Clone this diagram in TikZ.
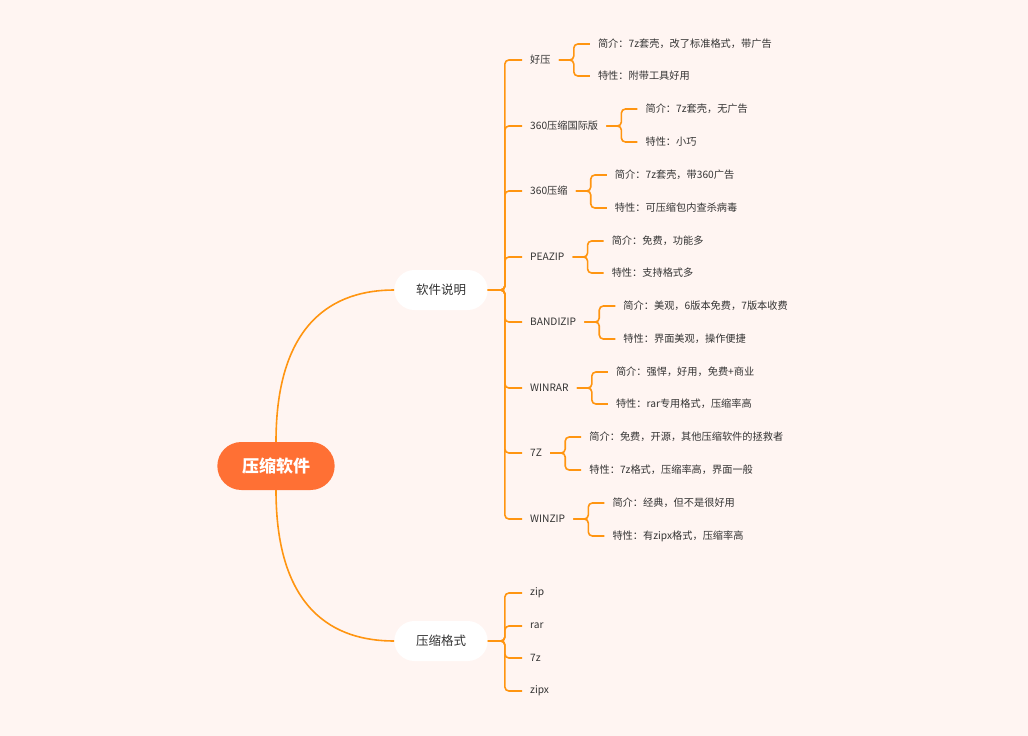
\documentclass[tikz,border=0pt]{standalone}
\usepackage{fontspec}
\setmainfont{Noto Sans CJK SC}
\usetikzlibrary{shapes.misc}
\definecolor{bg}{HTML}{FFF5F2}
\definecolor{ln}{HTML}{FF9511}
\definecolor{rootc}{HTML}{FF7034}
\definecolor{tx}{HTML}{333333}
\begin{document}
\begin{tikzpicture}[x=1pt,y=-1pt,
  txt/.style={anchor=west,inner xsep=8pt,inner ysep=2pt,text=tx,font=\fontsize{10.2}{12}\selectfont},
  pill/.style={rounded rectangle,fill=white,minimum width=100pt,minimum height=40pt,text=tx,font=\fontsize{12.5}{14}\selectfont},
  br/.style={draw=ln,line width=1.6pt,rounded corners=4pt},
  cv/.style={draw=ln,line width=1.6pt}]
\fill[bg] (0,0) rectangle (1028,736);
\useasboundingbox (0,0) rectangle (1028,736);
\node[rounded rectangle,fill=rootc,minimum width=124pt,minimum height=48pt,text=white,font=\fontsize{17}{20}\bfseries\selectfont] (root) at (276,466) {压缩软件};
\node[pill] (s) at (441,290) {软件说明};
\node[pill] (f) at (441,641) {压缩格式};
\draw[cv] (root.north) .. controls +(0,-120) and +(-60,0) .. (s.west);
\draw[cv] (root.south) .. controls +(0,120) and +(-60,0) .. (f.west);
% level 1
\foreach \n/\t/\y in {a/好压/60,b/360压缩国际版/126,c/360压缩/191,d/PEAZIP/257,e/BANDIZIP/322,g/WINRAR/388,h/7Z/453,i/WINZIP/519}{
  \node[txt] (\n) at (522,\y) {\t};
  \draw[br] (s.east) -- ++(17,0) |- (\n.west);
}
\foreach \n/\t/\y in {z1/zip/593,z2/rar/626,z3/7z/658,z4/zipx/691}{
  \node[txt] (\n) at (522,\y) {\t};
  \draw[br] (f.east) -- ++(17,0) |- (\n.west);
}
% level 2
\foreach \p/\ya/\ta/\yb/\tb in {
 a/44/{简介：7z套壳，改了标准格式，带广告}/76/{特性：附带工具好用},
 b/109/{简介：7z套壳，无广告}/142/{特性：小巧},
 c/175/{简介：7z套壳，带360广告}/208/{特性：可压缩包内查杀病毒},
 d/241/{简介：免费，功能多}/273/{特性：支持格式多},
 e/306/{简介：美观，6版本免费，7版本收费}/339/{特性：界面美观，操作便捷},
 g/372/{简介：强悍，好用，免费+商业}/404/{特性：rar专用格式，压缩率高},
 h/437/{简介：免费，开源，其他压缩软件的拯救者}/470/{特性：7z格式，压缩率高，界面一般},
 i/503/{简介：经典，但不是很好用}/536/{特性：有zipx格式，压缩率高}}{
  \path (\p.east) ++(31,0) coordinate (tmp);
  \node[txt] (\p1) at (tmp |- 0,\ya) {\ta};
  \node[txt] (\p2) at (tmp |- 0,\yb) {\tb};
  \draw[br] (\p.east) -- ++(15,0) |- (\p1.west);
  \draw[br] (\p.east) -- ++(15,0) |- (\p2.west);
}
\end{tikzpicture}
\end{document}
